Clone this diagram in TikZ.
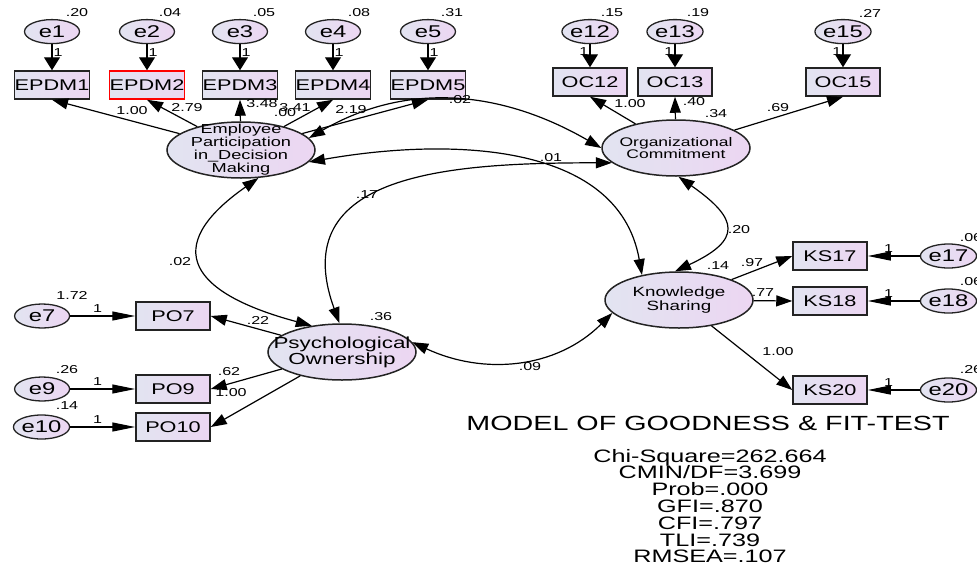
\documentclass[tikz,border=0pt]{standalone}
\usepackage{fontspec}
\setmainfont{Liberation Sans}[FakeStretch=1.4]
\usetikzlibrary{positioning,shapes.geometric,arrows.meta}

\definecolor{fillL}{RGB}{226,228,241}
\definecolor{fillR}{RGB}{236,214,242}
\definecolor{edgeC}{RGB}{35,35,35}

\tikzset{
  vhead/.tip={Triangle[length=13pt,width=16pt]},
  hhead/.tip={Triangle[length=23pt,width=9pt]},
  dhead/.tip={Triangle[length=16pt,width=11pt]},
}

\begin{document}
\begin{tikzpicture}[x=1pt,y=1pt,
  obs/.style={rectangle,draw=edgeC,line width=1.5pt,minimum width=74pt,minimum height=28pt,inner sep=0pt,left color=fillL,right color=fillR,font=\fontsize{15.5}{15.5}\selectfont},
  err/.style={ellipse,draw=edgeC,line width=1.3pt,minimum width=55pt,minimum height=24pt,inner sep=0pt,left color=fillL,right color=fillR,font=\fontsize{17}{17}\selectfont},
  lat/.style={ellipse,draw=edgeC,line width=1.5pt,minimum width=148pt,minimum height=56pt,inner sep=0pt,left color=fillL,right color=fillR},
  lattxt/.style={align=center,inner sep=0pt,font=\fontsize{13}{11}\selectfont},
  lbl/.style={inner sep=0pt,font=\fontsize{11.5}{11.5}\selectfont},
  load/.style={-{dhead},line width=1.2pt},
  vpath/.style={-{vhead},line width=1.2pt},
  hpath/.style={-{hhead},line width=1.2pt},
  cov/.style={{dhead}-{dhead},line width=1.2pt}]
  \useasboundingbox (0,0) rectangle (977,-568);

  % latent variables
  \node[lat,label={[lattxt]center:{Employee\\Participation\\in\_Decision\\Making}}] (epdm) at (241,-150) {};
  \node[lat,label={[lattxt,font=\fontsize{12.5}{11}\selectfont]center:{Organizational\\Commitment}}] (oc) at (676,-148) {};
  \node[lat,label={[lattxt,font=\fontsize{13.4}{11}\selectfont]center:{Knowledge\\Sharing}}] (ks) at (679,-300) {};
  \node[lat,label={[lattxt,font=\fontsize{16}{13.5}\selectfont]center:{Psychological\\Ownership}}] (po) at (342,-352) {};

  % indicators
  \node[obs] (epdm1) at (52,-85) {EPDM1};
  \node[obs,draw=red] (epdm2) at (147,-85) {EPDM2};
  \node[obs] (epdm3) at (240,-85) {EPDM3};
  \node[obs] (epdm4) at (333,-85) {EPDM4};
  \node[obs] (epdm5) at (428,-85) {EPDM5};
  \node[obs] (oc12) at (590,-82) {OC12};
  \node[obs] (oc13) at (675,-82) {OC13};
  \node[obs] (oc15) at (843,-82) {OC15};
  \node[obs] (ks17) at (830,-256) {KS17};
  \node[obs] (ks18) at (830,-301) {KS18};
  \node[obs] (ks20) at (830,-390) {KS20};
  \node[obs] (po7) at (173,-316) {PO7};
  \node[obs] (po9) at (173,-389) {PO9};
  \node[obs] (po10) at (173,-427) {PO10};

  % error terms
  \node[err] (e1) [above=26pt of epdm1] {e1};
  \node[err] (e2) [above=26pt of epdm2] {e2};
  \node[err] (e3) [above=26pt of epdm3] {e3};
  \node[err] (e4) [above=26pt of epdm4] {e4};
  \node[err] (e5) [above=26pt of epdm5] {e5};
  \node[err] (e12) [above=23pt of oc12] {e12};
  \node[err] (e13) [above=23pt of oc13] {e13};
  \node[err] (e15) [above=23pt of oc15] {e15};
  \node[err] (e17) [right=52pt of ks17] {e17};
  \node[err] (e18) [right=52pt of ks18] {e18};
  \node[err] (e20) [right=52pt of ks20] {e20};
  \node[err] (e7) [left=65pt of po7] {e7};
  \node[err] (e9) [left=65pt of po9] {e9};
  \node[err] (e10) [left=65pt of po10] {e10};

  % error paths
  \draw[vpath] (e1) -- node[lbl,right=1pt,pos=.3] {1} (epdm1);
  \draw[vpath] (e2) -- node[lbl,right=1pt,pos=.3] {1} (epdm2);
  \draw[vpath] (e3) -- node[lbl,right=1pt,pos=.3] {1} (epdm3);
  \draw[vpath] (e4) -- node[lbl,right=1pt,pos=.3] {1} (epdm4);
  \draw[vpath] (e5) -- node[lbl,right=1pt,pos=.3] {1} (epdm5);
  \draw[vpath] (e12) -- node[lbl,left=1pt,pos=.3] {1} (oc12);
  \draw[vpath] (e13) -- node[lbl,left=1pt,pos=.3] {1} (oc13);
  \draw[vpath] (e15) -- node[lbl,left=1pt,pos=.3] {1} (oc15);
  \draw[hpath] (e17) -- node[lbl,above=3pt,pos=.6] {1} (ks17);
  \draw[hpath] (e18) -- node[lbl,above=3pt,pos=.6] {1} (ks18);
  \draw[hpath] (e20) -- node[lbl,above=3pt,pos=.6] {1} (ks20);
  \draw[hpath] (e7) -- node[lbl,above=3pt,pos=.42] {1} (po7);
  \draw[hpath] (e9) -- node[lbl,above=3pt,pos=.42] {1} (po9);
  \draw[hpath] (e10) -- node[lbl,above=3pt,pos=.42] {1} (po10);

  % loadings
  \draw[load] (epdm) -- (epdm1.south);
  \draw[load] (epdm) -- (epdm2.south);
  \draw[load] (epdm) -- (epdm3.south);
  \draw[load] (epdm) -- (epdm4.south);
  \draw[load] (epdm) -- (epdm5.south);
  \draw[load] (oc) -- (oc12.south);
  \draw[load] (oc) -- (oc13.south);
  \draw[load] (oc) -- (oc15.south);
  \draw[load] (ks) -- (ks17.west);
  \draw[load] (ks) -- (ks18.west);
  \draw[load] (ks) -- (ks20.west);
  \draw[load] (po) -- (po7.east);
  \draw[load] (po) -- (po9.east);
  \draw[load] (po) -- (po10.east);

  % covariances
  \draw[cov] (epdm.10) to[out=30,in=150] (oc.180);
  \draw[cov] (epdm.-10) to[out=10,in=100] (ks.146);
  \draw[cov] (po.95) to[out=110,in=180,looseness=1.3] (oc.193);
  \draw[cov] (epdm.-58) to[out=215,in=165,looseness=2] (po.139);
  \draw[cov] (oc.-85) to[out=-35,in=25,looseness=2] (ks.98);
  \draw[cov] (po.8) to[out=-25,in=225] (ks.191);

  % variances
  \node[lbl] (v1) at (77,-13) {.20};
  \node[lbl] (v2) at (170,-13) {.04};
  \node[lbl] (v3) at (264,-13) {.05};
  \node[lbl] (v4) at (359,-13) {.08};
  \node[lbl] (v5) at (452,-13) {.31};
  \node[lbl] (v12) at (612,-13) {.15};
  \node[lbl] (v13) at (698,-13) {.19};
  \node[lbl] (v15) at (870,-13) {.27};
  \node[lbl] (v17) at (971,-238) {.06};
  \node[lbl] (v18) at (971,-282) {.06};
  \node[lbl] (v20) at (971,-370) {.26};
  \node[lbl] (v7) at (72,-295) {1.72};
  \node[lbl] (v9) at (67,-370) {.26};
  \node[lbl] (v10) at (67,-406) {.14};
  \node[lbl] (vepdm) at (285,-113) {.00};
  \node[lbl] (voc) at (716,-114) {.34};
  \node[lbl] (vks) at (718,-266) {.14};
  \node[lbl] (vpo) at (381,-317) {.36};

  % loading values
  \node[lbl] (w1) at (132,-111) {1.00};
  \node[lbl] (w2) at (187,-108) {2.79};
  \node[lbl] (w3) at (262,-104) {3.48};
  \node[lbl] (w4) at (295,-108) {3.41};
  \node[lbl] (w5) at (351,-110) {2.19};
  \node[lbl] (w12) at (630,-104) {1.00};
  \node[lbl] (w13) at (694,-102) {.40};
  \node[lbl] (w15) at (778,-108) {.69};
  \node[lbl] (w17) at (752,-263) {.97};
  \node[lbl] (w18) at (763,-293) {.77};
  \node[lbl] (w20) at (778,-352) {1.00};
  \node[lbl] (w7) at (258,-320) {.22};
  \node[lbl] (w9) at (229,-372) {.62};
  \node[lbl] (w10) at (231,-393) {1.00};

  % covariance values
  \node[lbl] (c1) at (460,-100) {.02};
  \node[lbl] (c2) at (551,-158) {.01};
  \node[lbl] (c3) at (367,-195) {.17};
  \node[lbl] (c4) at (180,-262) {.02};
  \node[lbl] (c5) at (739,-230) {.20};
  \node[lbl] (c6) at (530,-367) {.09};

  % fit
  \node[font=\fontsize{20.5}{20.5}\selectfont] (title) at (708,-423) {MODEL OF GOODNESS \& FIT-TEST};
  \node[align=center,font=\fontsize{18}{16.8}\selectfont] (fit) at (710,-506)
    {Chi-Square=262.664\\CMIN/DF=3.699\\Prob=.000\\GFI=.870\\CFI=.797\\TLI=.739\\RMSEA=.107};
\end{tikzpicture}
\end{document}
